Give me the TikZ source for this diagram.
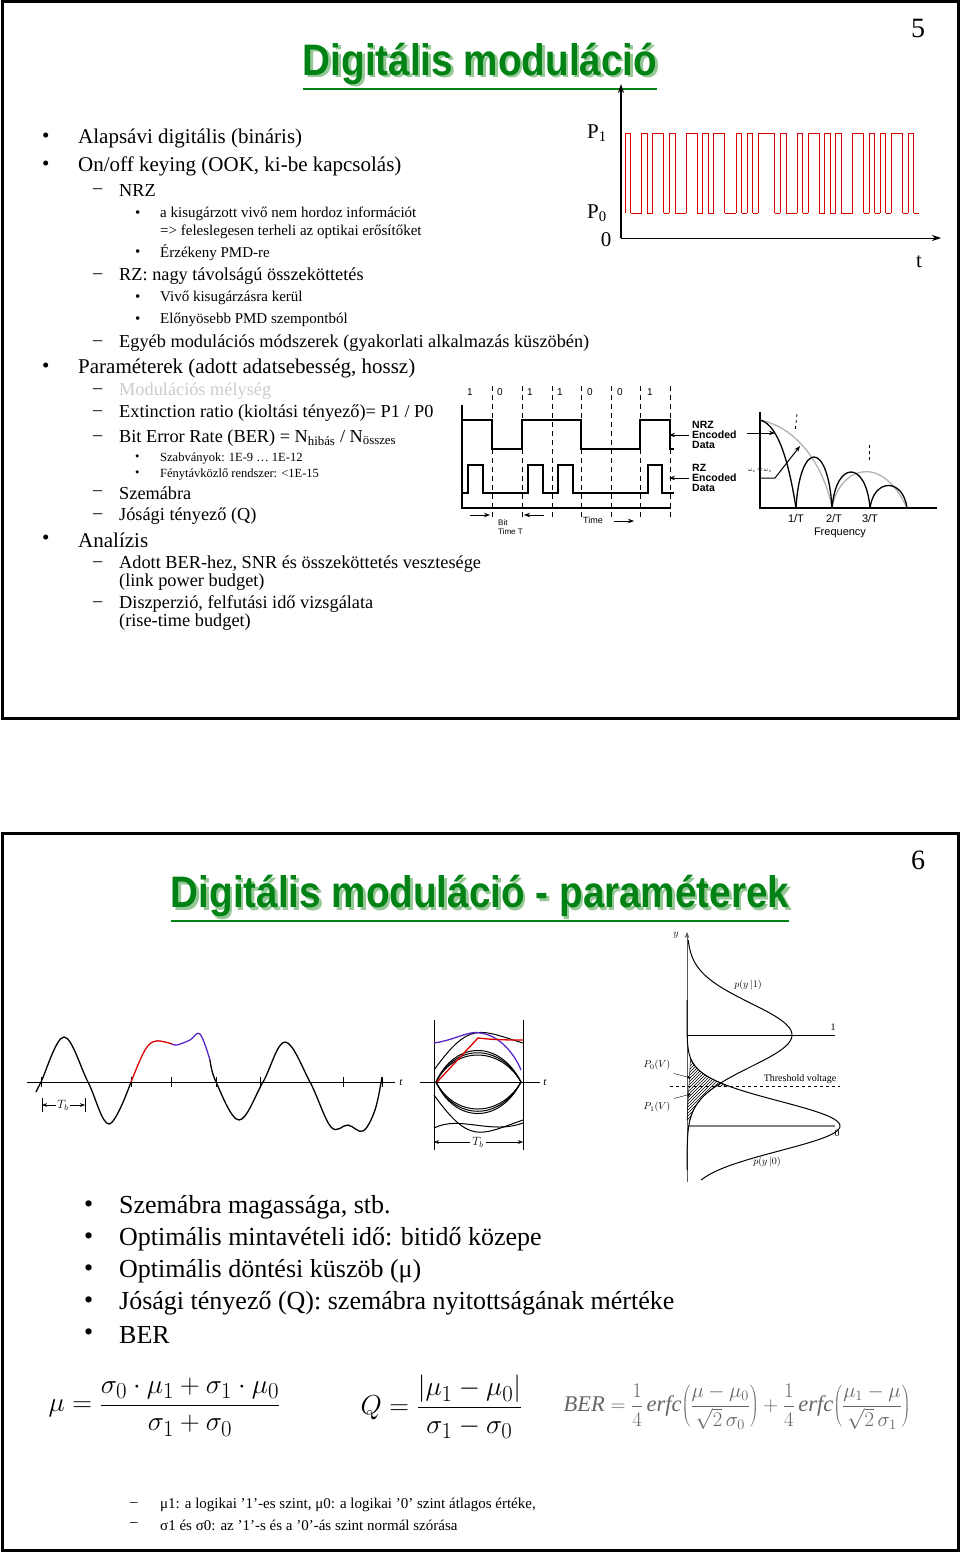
\documentclass[tikz,border=0pt]{standalone}
\usepackage{fontspec}
\setmainfont{Liberation Serif}
\setsansfont{Liberation Sans}
\usetikzlibrary{arrows.meta,patterns,calc}
\definecolor{tgreen}{RGB}{0,130,20}
\definecolor{tshadow}{RGB}{150,200,150}
\definecolor{pred}{RGB}{220,0,0}
\definecolor{pblue}{RGB}{90,40,200}
\tikzset{
 txt/.style={anchor=west,inner sep=0pt,font=\fontsize{21}{23}\selectfont},
 sub/.style={anchor=west,inner sep=0pt,font=\fontsize{18.3}{20}\selectfont},
 small/.style={anchor=west,inner sep=0pt,font=\fontsize{15}{17}\selectfont},
 tiny/.style={anchor=west,inner sep=0pt,font=\fontsize{12.5}{14}\selectfont},
 big/.style={anchor=west,inner sep=0pt,font=\fontsize{26}{28}\selectfont},
 lab/.style={inner sep=0pt,font=\sffamily\fontsize{10}{11}\selectfont},
 labb/.style={anchor=west,inner sep=0pt,align=left,font=\sffamily\bfseries\fontsize{10.5}{12}\selectfont},
 frame/.style={draw,line width=3pt},
 wave/.style={line width=1.3pt},
 dsh/.style={dashed,line width=1pt,dash pattern=on 5pt off 4pt},
 arr/.style={-{Stealth[length=6pt]},line width=1pt},
 ttl/.style={inner sep=0pt,font=\sffamily\bfseries\fontsize{42}{46}\selectfont}
}
\newcommand{\slidetitle}[3]{%
 \node[ttl,tshadow] at ($(#1)+(2.5,2.5)$) {\scalebox{0.92}[1.05]{#3}};
 \node[ttl,tgreen] (#2) at (#1) {\scalebox{0.92}[1.05]{#3}};
 \draw[tgreen,line width=2pt] ([yshift=-4pt]#2.south west) -- ([yshift=-4pt]#2.south east);}
\begin{document}
\begin{tikzpicture}[x=1pt,y=-1pt]
\useasboundingbox (0,0) rectangle (960,1552);
\fill[white] (0,0) rectangle (960,1552);
% ================= slide 1
\draw[frame] (2,2) rectangle (958,718);
\slidetitle{480,64}{t1}{Digitális moduláció}
\node[font=\fontsize{28}{30}\selectfont] (n5) at (918,28) {5};
\foreach \y/\t [count=\i] in {138/{Alapsávi digitális (bináris)},166/{On/off keying (OOK, ki-be kapcsolás)},368/{Paraméterek (adott adatsebesség, hossz)},540/{Analízis}}{
 \node[txt] (b\i) at (42,\y) {•}; \node[txt] (bt\i) at (78,\y) {\t};}
\foreach \y/\t [count=\i] in {191/NRZ,276/{RZ: nagy távolságú összeköttetés},343/{Egyéb modulációs módszerek (gyakorlati alkalmazás küszöbén)},413/{Extinction ratio (kioltási tényező)= P1 / P0},438/{Bit Error Rate (BER) = N\textsubscript{hibás} / N\textsubscript{összes}},493/Szemábra,516/{Jósági tényező (Q)},564/{Adott BER-hez, SNR és összeköttetés vesztesége},604/{Diszperzió, felfutási idő vizsgálata}}{
 \node[sub] (d\i) at (93,\y) {–}; \node[sub] (dt\i) at (119,\y) {\t};}
\node[sub] (dg) at (93,391) {–}; \node[sub,black!20] (dgt) at (119,391) {Modulációs mélység};
\node[sub] (c1) at (119,582) {(link power budget)};
\node[sub] (c2) at (119,622) {(rise-time budget)};
\foreach \y/\t [count=\i] in {214/{a kisugárzott vivő nem hordoz információt},253/{Érzékeny PMD-re},298/{Vivő kisugárzásra kerül},320/{Előnyösebb PMD szempontból}}{
 \node[small] (s\i) at (135,\y) {•}; \node[small] (st\i) at (160,\y) {\t};}
\node[small] (st0) at (160,232) {=> feleslegesen terheli az optikai erősítőket};
\node[tiny] (u1) at (135,458) {•}; \node[tiny] (ut1) at (160,458) {Szabványok: 1E-9 … 1E-12};
\node[tiny] (u2) at (135,474) {•}; \node[tiny] (ut2) at (160,474) {Fénytávközlő rendszer: <1E-15};
% --- OOK plot
\coordinate (o) at (621,238);
\coordinate (ytop) at (621,84);
\coordinate (xend) at (941,238);
\draw[-{Stealth[length=9pt,width=6pt]},line width=1.5pt] (o) -- (ytop);
\draw[-{Stealth[length=9pt,width=6pt]},line width=1pt] (o) -- (xend);
\node[font=\fontsize{21}{22}\selectfont] (p1) at (597,133) {P\textsubscript{1}};
\node[font=\fontsize{21}{22}\selectfont] (p0) at (597,213) {P\textsubscript{0}};
\node[font=\fontsize{21}{22}\selectfont] (z0) at (606,240) {0};
\node[font=\fontsize{21}{22}\selectfont] (tl) at (919,262) {t};
\foreach \b [count=\i, remember=\b as \prev (initially 0)] in {1,0,0,1,0,1,1,0,1,0,0,1,1,0,1,0,1,1,0,0,1,0,1,0,1,1,1,0,1,0,0,1,0,1,1,0,1,0,1,0,0,1,1,0,1,0,1,0,1,1,0,1,0}{
 \pgfmathsetmacro{\xa}{625+(\i-1)*5.55}
 \pgfmathsetmacro{\xb}{625+\i*5.55}
 \pgfmathsetmacro{\yy}{\b==1 ? 133 : 213}
 \draw[pred,line width=0.9pt] (\xa,\yy) -- (\xb,\yy);
 \ifnum\b=\prev\else \draw[pred,line width=0.9pt] (\xa,133) -- (\xa,213);\fi
}
% --- NRZ / RZ
\draw[line width=1.3pt] (462,405) -- (462,508) -- (671,508);
\foreach \x in {492,522,552,581,611,640,670}{\draw[dsh] (\x,386) -- (\x,518);}
\foreach \x/\b in {470/1,500/0,530/1,560/1,590/0,620/0,650/1}{\node[lab] at (\x,392) {\b};}
\draw[wave] (462,420) -- (492,420) -- (492,449) -- (522,449) -- (522,420) -- (581,420) -- (581,449) -- (640,449) -- (640,420) -- (670,420) -- (670,449) -- (674,449);
\draw[wave] (462,493) -- (468,493) -- (468,465) -- (483,465) -- (483,493) -- (528,493) -- (528,465) -- (543,465) -- (543,493) -- (558,493) -- (558,465) -- (573,465) -- (573,493) -- (648,493) -- (648,465) -- (662,465) -- (662,493) -- (674,493);
\node[labb] (nrz) at (692,435) {NRZ\\[-2pt]Encoded\\[-2pt]Data};
\node[labb] (rz) at (692,478) {RZ\\[-2pt]Encoded\\[-2pt]Data};
\draw[arr] (nrz.west) ++(-3,0) coordinate (na) -- ++(-20,0);
\draw[arr] (rz.west) ++(-3,0) coordinate (ra) -- ++(-20,0);
\coordinate (ba) at (470,515); \coordinate (bb) at (490,515);
\coordinate (bc) at (544,515); \coordinate (bd) at (524,515);
\draw[arr] (ba) -- (bb); \draw[arr] (bc) -- (bd);
\node[lab,font=\sffamily\fontsize{8}{9}\selectfont,align=left,anchor=north west] (btt) at (498,519) {Bit\\Time T};
\node[lab,font=\sffamily\fontsize{9}{10}\selectfont] (tm) at (593,520) {Time};
\coordinate (ta) at (614,521); \coordinate (tb) at (634,521);
\draw[arr] (ta) -- (tb);
% --- spectrum
\draw[line width=1.2pt] (760,412) -- (760,508) -- (937,508);
\draw[gray!60,line width=1.3pt] (760,420) .. controls (800,428) and (825,470) .. (832,508);
\draw[gray!60,line width=1.3pt] (832,508) .. controls (838,470) and (880,450) .. (907,508);
\draw[line width=1.3pt] (760,420) .. controls (780,425) and (790,470) .. (796,508);
\draw[line width=1.3pt] (796,508) .. controls (800,440) and (828,440) .. (832,508);
\draw[line width=1.3pt] (832,508) .. controls (836,460) and (866,460) .. (870,508);
\draw[line width=1.3pt] (870,508) .. controls (874,478) and (903,478) .. (907,508);
\draw[dashed,line width=0.8pt] (797,414) -- (795,432);
\draw[dashed,line width=0.8pt] (869,445) -- (869,462);
\coordinate (sa) at (747,433); \coordinate (sb) at (775,433);
\draw[arr] (sa) -- (sb);
\coordinate (sc) at (760,478); \coordinate (sd) at (775,478); \coordinate (se) at (800,446);
\draw[arr] (sc) -- (sd) -- (se);
\node[lab,font=\fontsize{6}{7}\selectfont] (wc) at (760,470) {$\omega_c\!\approx\!\omega_s$};
\node[lab,font=\sffamily\fontsize{11}{12}\selectfont] (f1) at (796,519) {1/T};
\node[lab,font=\sffamily\fontsize{11}{12}\selectfont] (f2) at (834,519) {2/T};
\node[lab,font=\sffamily\fontsize{11}{12}\selectfont] (f3) at (870,519) {3/T};
\node[lab,font=\sffamily\fontsize{11}{12}\selectfont] (fq) at (840,533) {Frequency};
% ================= slide 2
\draw[frame] (2,833) rectangle (958,1550);
\slidetitle{480,896}{t2}{Digitális moduláció - paraméterek}
\node[font=\fontsize{28}{30}\selectfont] (n6) at (918,860) {6};
% sinusoid
\draw[line width=0.8pt] (27,1082) -- (395,1082);
\foreach \x in {41,131,171,216,260,343,382}{\draw (\x,1077) -- (\x,1087);}
\node[font=\itshape\fontsize{11}{12}\selectfont] (tw) at (401,1082) {t};
\draw[wave] plot[smooth,tension=0.6] coordinates {(36,1092) (41,1082) (64,1037) (88,1082) (109,1124) (131,1082)};
\draw[wave,pred] plot[smooth,tension=0.6] coordinates {(131,1082) (145,1050) (156,1041) (172,1044)};
\draw[wave,pblue] plot[smooth,tension=0.6] coordinates {(172,1044) (177,1045) (190,1040) (200,1034) (210,1060)};
\draw[wave] plot[smooth,tension=0.6] coordinates {(210,1060) (216,1082) (239,1120) (263,1082) (285,1042) (310,1082) (331,1127) (348,1125) (363,1131) (375,1110) (382,1077)};
\draw[{Stealth[length=5pt]}-{Stealth[length=5pt]}] (42,1105) coordinate (th1) -- (85,1105) coordinate (th2);
\draw (42,1098) -- (42,1112) (85,1098) -- (85,1112);
\node[fill=white,inner sep=1pt,font=\itshape\fontsize{12}{13}\selectfont] (thl) at (63,1105) {$T_b$};
% eye
\draw[line width=0.8pt] (420,1082) -- (540,1082);
\node[font=\itshape\fontsize{11}{12}\selectfont] (te) at (545,1082) {t};
\draw (434,1020) -- (434,1150) (523,1020) -- (523,1150);
\foreach \a in {0,3,6}{
 \draw[line width=1pt] (436,1082) .. controls (455,{1040+\a}) and (500,{1040+\a}) .. (521,1082);
 \draw[line width=1pt] (436,1082) .. controls (455,{1124-\a}) and (500,{1124-\a}) .. (521,1082);}
\draw[line width=1pt] (434,1070) .. controls (470,1020) and (480,1030) .. (523,1043);
\draw[line width=1pt] (434,1095) .. controls (470,1145) and (480,1135) .. (523,1120);
\draw[line width=1pt] (434,1128) .. controls (460,1115) and (490,1135) .. (523,1123);
\draw[wave,pblue] (434,1043) .. controls (455,1040) and (470,1030) .. (480,1033) .. controls (500,1035) and (515,1055) .. (521,1070);
\draw[wave,pred] (437,1082) -- (478,1038) .. controls (495,1040) and (510,1040) .. (523,1040);
\draw[{Stealth[length=5pt]}-{Stealth[length=5pt]}] (434,1142) coordinate (te1) -- (523,1142) coordinate (te2);
\node[fill=white,inner sep=2pt,font=\itshape\fontsize{12}{13}\selectfont] (tel) at (478,1142) {$T_b$};
% gaussians
\draw[-{Stealth[length=6pt]},gray!70!black] (687,1182) -- (687,932);
\node[font=\itshape\fontsize{10}{11}\selectfont] (yl) at (676,935) {$y$};
\draw (687,1035) -- (835,1035);
\draw[line width=1.2pt,gray] (687,1126) -- (835,1126);
\node[font=\fontsize{10}{11}\selectfont] (l1) at (833,1027) {1};
\node[font=\fontsize{10}{11}\selectfont] (l0) at (837,1133) {0};
\draw[pattern=north east lines] plot[domain=1058:1086,samples=20] ({687+153*exp(-((\x-1126)/35)*((\x-1126)/35))},\x) -- plot[domain=1086:1120,samples=20] ({687+105*exp(-((\x-1035)/45)*((\x-1035)/45))},\x) -- (687,1120) -- cycle;
\draw[line width=1pt] plot[domain=940:1170,samples=90] ({687+105*exp(-((\x-1035)/45)*((\x-1035)/45))},\x);
\draw[line width=1pt] plot[domain=1000:1180,samples=90] ({687+153*exp(-((\x-1126)/35)*((\x-1126)/35))},\x);
\draw[dashed] (670,1086) -- (840,1086);
\node[font=\fontsize{10}{11}\selectfont] (thv) at (800,1079) {Threshold voltage};
\node[font=\itshape\fontsize{10}{11}\selectfont] (py1) at (748,985) {$p(y\,|1)$};
\node[font=\itshape\fontsize{10}{11}\selectfont] (py0) at (767,1162) {$p(y\,|0)$};
\node[font=\itshape\fontsize{10}{11}\selectfont] (pv0) at (657,1065) {$P_0(V)$};
\node[font=\itshape\fontsize{10}{11}\selectfont] (pv1) at (657,1107) {$P_1(V)$};
\draw[-{Stealth[length=4pt]}] (pv0.south east) -- (691,1078);
\draw[-{Stealth[length=4pt]}] (pv1.north east) -- (691,1094);
% bullets slide 2
\foreach \y/\t [count=\i] in {1207/{Szemábra magassága, stb.},1239/{Optimális mintavételi idő: bitidő közepe},1271/{Optimális döntési küszöb (μ)},1303/{Jósági tényező (Q): szemábra nyitottságának mértéke},1335/BER}{
 \node[big] (e\i) at (84,\y) {•}; \node[big] (et\i) at (119,\y) {\t};}
% formulas
\node[anchor=west,font=\fontsize{28}{34}\selectfont] (fm) at (45,1407) {\scalebox{1.1}{$\displaystyle \mu=\frac{\sigma_0\cdot\mu_1+\sigma_1\cdot\mu_0}{\sigma_1+\sigma_0}$}};
\node[anchor=west,font=\fontsize{28}{34}\selectfont] (fq2) at (357,1407) {\scalebox{1.1}{$\displaystyle Q=\frac{|\mu_1-\mu_0|}{\sigma_1-\sigma_0}$}};
\node[anchor=west,gray!80!black,font=\fontsize{22.5}{28}\selectfont] (fb) at (560,1407) {$\displaystyle \mathit{BER}=\frac14\,\mathit{erfc}\!\left(\frac{\mu-\mu_0}{\sqrt2\,\sigma_0}\right)+\frac14\,\mathit{erfc}\!\left(\frac{\mu_1-\mu}{\sqrt2\,\sigma_1}\right)$};
\node[small] (g1) at (130,1505) {–}; \node[small] (gt1) at (160,1505) {μ1: a logikai ’1’-es szint, μ0: a logikai ’0’ szint átlagos értéke,};
\node[small] (g2) at (130,1525) {–}; \node[small] (gt2) at (160,1525) {σ1 és σ0: az ’1’-s és a ’0’-ás szint normál szórása};
\end{tikzpicture}
\end{document}
